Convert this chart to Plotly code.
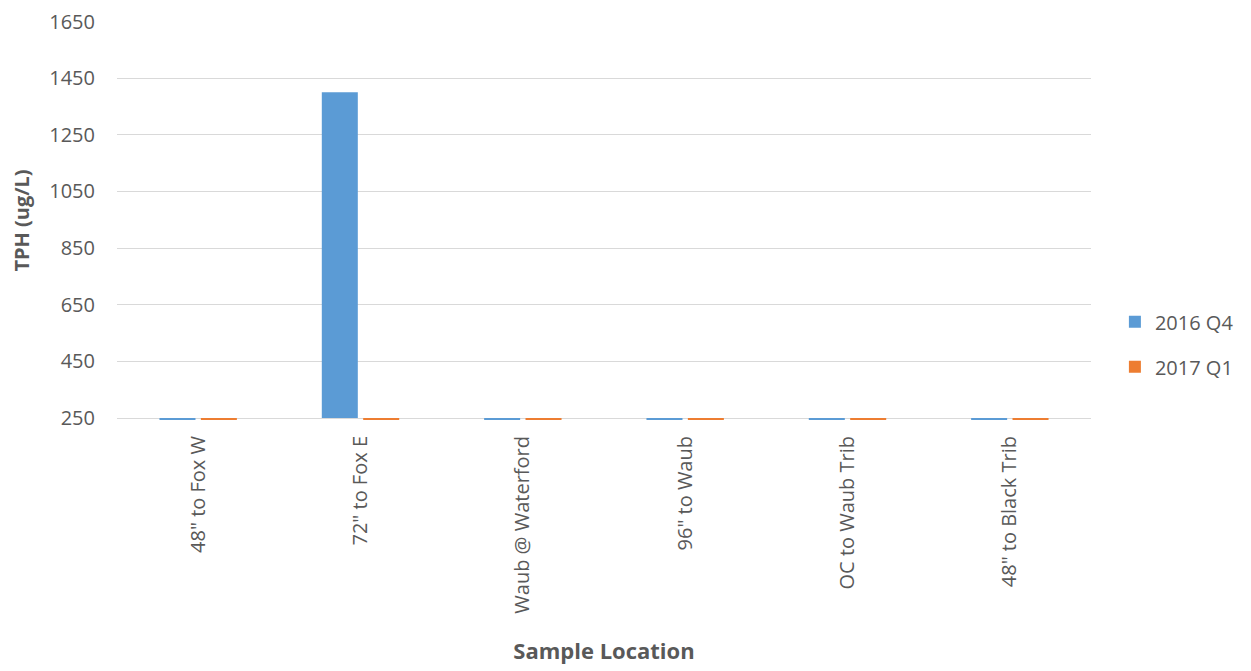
import plotly.graph_objects as go

categories = ['48" to Fox W', '72" to Fox E', 'Waub @ Waterford', '96" to Waub', 'OC to Waub Trib', '48" to Black Trib']
q4_2016 = [243, 1400, 243, 243, 243, 243]
q1_2017 = [243, 243, 243, 243, 243, 243]
series_names = ["2016 Q4", "2017 Q1"]
tick_vals = [250, 450, 650, 850, 1050, 1250, 1450, 1650]

AXIS_BASE = 250
FONT = "Open Sans"
GREY = "#595959"

fig = go.Figure()
for name, vals, color, grp in [(series_names[0], q4_2016, "#5B9BD5", "a"),
                               (series_names[1], q1_2017, "#ED7D31", "b")]:
    fig.add_trace(go.Bar(
        x=categories,
        y=[v - AXIS_BASE for v in vals],
        base=AXIS_BASE,
        name=name,
        marker=dict(color=color, line=dict(width=0)),
        legendgroup=grp,
        hovertemplate="%{x}: %{customdata}<extra>" + name + "</extra>",
        customdata=vals,
    ))

W, H = 1243, 663
ML, MR, MT, MB = 109, 156, 13, 251

fig.update_layout(
    width=W, height=H,
    paper_bgcolor="white", plot_bgcolor="white",
    margin=dict(l=ML, r=MR, t=MT, b=MB),
    barmode="group", bargap=0.49, bargroupgap=0.13,
    font=dict(family=FONT, color=GREY, size=20),
    showlegend=True,
    legend=dict(x=(1111 - ML) / (W - ML - MR), y=0.19, xanchor="left", yanchor="middle",
                font=dict(size=20, color=GREY), tracegroupgap=16,
                itemwidth=30, bgcolor="rgba(0,0,0,0)"),
    xaxis=dict(
        automargin=False,
        tickangle=-90, showgrid=False, showline=False, ticks="",
        tickfont=dict(size=20, color=GREY), ticklabelstandoff=11,
        title=dict(text="<b>Sample Location</b>", font=dict(size=22, color=GREY), standoff=30),
    ),
    yaxis=dict(
        automargin=False, ticklabeloverflow="allow",
        range=[243, 1652], tickvals=tick_vals, showgrid=True, gridcolor="#D9D9D9",
        gridwidth=1, zeroline=False, showline=False, ticks="",
        tickfont=dict(size=20, color=GREY), ticklabelstandoff=21,
        title=dict(text="<b>TPH (ug/L)</b>", font=dict(size=20, color=GREY), standoff=15),
    ),
)

fig.write_html("out.html")
